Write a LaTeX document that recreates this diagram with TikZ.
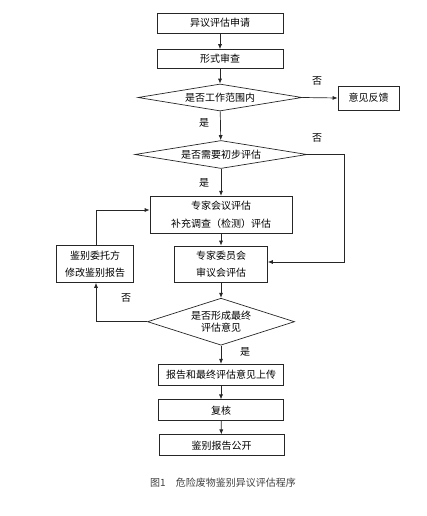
\documentclass[tikz,border=0pt]{standalone}
\usepackage{fontspec}
\setmainfont{Noto Sans CJK SC}
\usetikzlibrary{arrows.meta,shapes.geometric}
\begin{document}
\begin{tikzpicture}[x=1pt,y=-1pt,
  font=\fontsize{10}{17.5}\selectfont,
  box/.style={draw=black!85,line width=0.7pt,rectangle,inner sep=0pt,align=center},
  dia/.style={draw=black!85,line width=0.7pt,diamond,inner sep=0pt,align=center,font=\fontsize{10}{11.5}\selectfont},
  arr/.style={draw=black!85,line width=0.7pt,-{Latex[length=5pt,width=4pt]}},
  lab/.style={inner sep=0pt}]
\useasboundingbox (0,0) rectangle (426,516);
\node[box,minimum width=126pt,minimum height=20pt] (b1) at (220,23) {异议评估申请};
\node[box,minimum width=126pt,minimum height=19pt] (b2) at (220,59) {形式审查};
\node[dia,minimum width=164pt,minimum height=27pt,aspect=6] (d1) at (220,97.5) {是否工作范围内};
\node[box,minimum width=61pt,minimum height=24pt] (fb) at (368.5,98) {意见反馈};
\node[dia,minimum width=172pt,minimum height=28pt,aspect=6] (d2) at (221,154.5) {是否需要初步评估};
\node[box,minimum width=142pt,minimum height=37pt] (b3) at (221,214.7) {专家会议评估\\补充调查（检测）评估};
\node[box,minimum width=93pt,minimum height=36pt] (b4) at (221,264) {专家委员会\\审议会评估};
\node[box,minimum width=77pt,minimum height=37pt] (b5) at (95,264) {鉴别委托方\\修改鉴别报告};
\node[dia,minimum width=147pt,minimum height=47pt,aspect=3.1] (d3) at (221,321.7) {是否形成最终\\评估意见};
\node[box,minimum width=125pt,minimum height=21pt] (b6) at (221,374.7) {报告和最终评估意见上传};
\node[box,minimum width=125pt,minimum height=21pt] (b7) at (221,410.3) {复核};
\node[box,minimum width=125pt,minimum height=21pt] (b8) at (221.5,445.3) {鉴别报告公开};
\node[lab,text=black!75] (cap) at (223,482.7) {图1\quad 危险废物鉴别异议评估程序};

\coordinate (c1) at (344,154.5);
\coordinate (c2) at (344,262);
\coordinate (c3) at (96,210);
\coordinate (c4) at (96,321.7);

\draw[arr] (b1) -- (b2);
\draw[arr] (b2) -- (d1);
\draw[arr] (d1.east) -- (fb.west);
\draw[arr] (d1) -- (d2);
\draw[arr] (d2) -- (b3);
\draw[arr] (b3) -- (b4);
\draw[arr] (b4) -- (d3);
\draw[arr] (d3) -- (b6);
\draw[arr] (b6) -- (b7);
\draw[arr] (b7) -- (b8);
\draw[arr] (d2.east) -- (c1) -- (c2) -- (b4.east |- c2);
\draw[arr] (b5.north -| c3) -- (c3) -- (b3.west |- c3);
\draw[arr] (d3.west) -- (c4) -- (b5.south -| c4);

\node[lab] (n1) at (317,81) {否};
\node[lab] (y1) at (204,123) {是};
\node[lab] (n2) at (317,138) {否};
\node[lab] (y2) at (204,183) {是};
\node[lab] (n3) at (126,298) {否};
\node[lab] (y3) at (245,351.7) {是};
\end{tikzpicture}
\end{document}
